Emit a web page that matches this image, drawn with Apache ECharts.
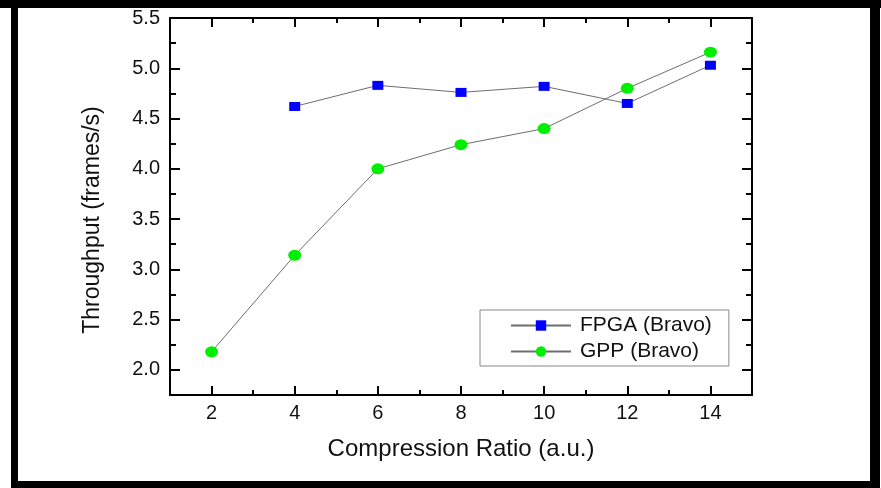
<!DOCTYPE html>
<html>
<head>
<meta charset="utf-8">
<script src="https://cdn.jsdelivr.net/npm/echarts@6/dist/echarts.min.js"></script>
<style>
  html, body { margin: 0; padding: 0; background: #fff; }
  #chart { width: 881px; height: 488px; }
</style>
</head>
<body>
<div id="chart"></div>
<script>
// values
var ratios = [2, 4, 6, 8, 10, 12, 14];
var fpga = [null, 4.62, 4.83, 4.76, 4.82, 4.65, 5.03];
var gpp = [2.18, 3.14, 4.00, 4.24, 4.40, 4.80, 5.16];
var xMajor = [2, 4, 6, 8, 10, 12, 14];
var yMajor = [2.0, 2.5, 3.0, 3.5, 4.0, 4.5, 5.0, 5.5];

var font = "'Liberation Sans', Arial, sans-serif";
var black = { color: "#000", width: 2 };

function pairs(ys) {
  var out = [];
  ratios.forEach(function (x, i) {
    if (ys[i] !== null) out.push([x, ys[i]]);
  });
  return out;
}

// minor ticks + line + labels on the main axis, major ticks on a twin axis
function xAxes(pos, withLabels) {
  return [
    {
      type: "value", position: pos, min: 1, max: 15, interval: 1,
      axisLine: { show: true, onZero: false, lineStyle: black },
      axisTick: { show: true, inside: true, length: 5, lineStyle: black },
      axisLabel: {
        show: withLabels, margin: 8, fontSize: 20, color: "#111", fontFamily: font,
        formatter: function (v) { return v % 2 === 0 ? String(v) : ""; }
      },
      splitLine: { show: false },
      name: withLabels ? "Compression Ratio (a.u.)" : "",
      nameLocation: "middle", nameGap: 42,
      nameTextStyle: { fontSize: 24, color: "#111", fontFamily: font }
    },
    {
      type: "value", position: pos, min: 1, max: 15,
      axisLine: { show: false },
      axisTick: { show: true, inside: true, length: 9, customValues: xMajor, lineStyle: black },
      axisLabel: { show: false },
      splitLine: { show: false }
    }
  ];
}

function yAxes(pos, withLabels) {
  return [
    {
      type: "value", position: pos, min: 1.75, max: 5.5, interval: 0.25,
      axisLine: { show: true, onZero: false, lineStyle: black },
      axisTick: { show: true, inside: true, length: 6, lineStyle: black },
      axisLabel: {
        show: withLabels, margin: 10, fontSize: 20, color: "#111", fontFamily: font,
        formatter: function (v) {
          return Math.abs(v * 2 - Math.round(v * 2)) < 1e-6 ? v.toFixed(1) : "";
        }
      },
      splitLine: { show: false }
    },
    {
      type: "value", position: pos, min: 1.75, max: 5.5,
      axisLine: { show: false },
      axisTick: { show: true, inside: true, length: 10, customValues: yMajor, lineStyle: black },
      axisLabel: { show: false },
      splitLine: { show: false }
    }
  ];
}

var chart = echarts.init(document.getElementById("chart"));

var option = {
  backgroundColor: "#fff",
  animation: false,
  grid: { left: 170, right: 129, top: 18, bottom: 93 },
  xAxis: xAxes("bottom", true).concat(xAxes("top", false)),
  yAxis: yAxes("left", true).concat(yAxes("right", false)),
  legend: {
    orient: "vertical",
    left: 480, top: 310,
    padding: [5, 17, 4, 30],
    itemGap: 5,
    itemWidth: 60, itemHeight: 13,
    borderColor: "#888", borderWidth: 1,
    textStyle: { fontSize: 21, color: "#111", fontFamily: font, padding: [0, 0, 0, 4] },
    data: ["FPGA (Bravo)", "GPP (Bravo)"]
  },
  series: [
    {
      name: "FPGA (Bravo)", type: "line",
      xAxisIndex: 0, yAxisIndex: 0,
      data: pairs(fpga),
      symbol: "rect", symbolSize: [11, 9],
      itemStyle: { color: "#0000ff" },
      lineStyle: { color: "#6e6e6e", width: 1 }
    },
    {
      name: "GPP (Bravo)", type: "line",
      xAxisIndex: 0, yAxisIndex: 0,
      data: pairs(gpp),
      symbol: "circle", symbolSize: [13, 11],
      itemStyle: { color: "#00ee00" },
      lineStyle: { color: "#6e6e6e", width: 1 }
    }
  ],
  graphic: [
    // black photo frame
    { type: "rect", shape: { x: 0, y: 0, width: 881, height: 8 }, style: { fill: "#000" } },
    { type: "rect", shape: { x: 11, y: 0, width: 7, height: 488 }, style: { fill: "#000" } },
    { type: "rect", shape: { x: 870, y: 0, width: 10, height: 488 }, style: { fill: "#000" } },
    { type: "rect", shape: { x: 11, y: 481, width: 869, height: 7 }, style: { fill: "#000" } },
    {
      type: "text", x: 93, y: 220, rotation: Math.PI / 2,
      style: {
        text: "Throughput (frames/s)", font: "23px " + font, fill: "#111",
        textAlign: "center", textVerticalAlign: "middle"
      }
    }
  ]
};

chart.setOption(option);
</script>
</body>
</html>
